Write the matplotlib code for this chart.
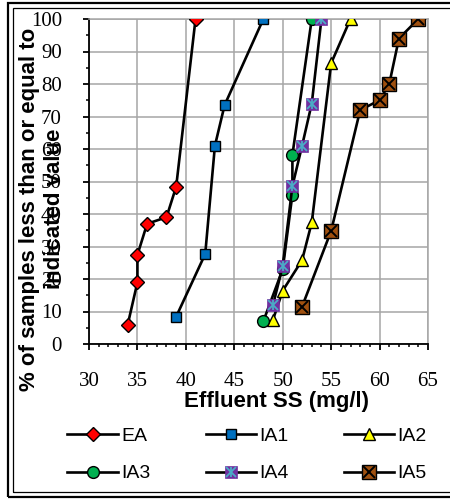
import matplotlib
matplotlib.use("Agg")
import matplotlib.pyplot as plt
from matplotlib.patches import Rectangle
from matplotlib.ticker import MultipleLocator

SERIF = "Liberation Serif"
SANS = "Liberation Sans"

# data (x = effluent SS mg/l, y = cumulative %)
ea_x = [34, 35, 35, 36, 38, 39, 41]
ea_y = [6, 19, 27.4, 37, 39, 48.4, 100]
ia1_x = [39, 42, 43, 44, 48]
ia1_y = [8.4, 27.7, 61, 73.5, 100]
ia2_x = [49, 50, 52, 53, 55, 57]
ia2_y = [7.5, 16.4, 25.8, 37.4, 86.4, 100]
ia3_x = [48, 50, 51, 51, 53]
ia3_y = [7, 23, 46, 58.2, 100]
ia4_x = [49, 50, 51, 52, 53, 54]
ia4_y = [12, 24, 48.6, 61, 74, 100]
ia5_x = [52, 55, 58, 60, 61, 62, 64]
ia5_y = [11.5, 34.8, 72, 75, 80, 94, 100]
labels = ["EA", "IA1", "IA2", "IA3", "IA4", "IA5"]

fig = plt.figure(figsize=(4.5, 4.99), dpi=100)
ax = fig.add_axes([89/450, 1-344/499, 339/450, 325/499])

LW = 1.9
h_ea, = ax.plot(ea_x, ea_y, color="black", lw=LW, marker="D", ms=7.5,
                mfc="#ff0000", mec="black", mew=1, zorder=3)
h_ia1, = ax.plot(ia1_x, ia1_y, color="black", lw=LW, marker="s", ms=7.5,
                 mfc="#0070c0", mec="black", mew=1, zorder=3)
h_ia2, = ax.plot(ia2_x, ia2_y, color="black", lw=LW, marker="^", ms=9,
                 mfc="#ffff00", mec="black", mew=1, zorder=3)
h_ia3, = ax.plot(ia3_x, ia3_y, color="black", lw=LW, marker="o", ms=8.5,
                 mfc="#00b050", mec="black", mew=1, zorder=3)
h_ia4, = ax.plot(ia4_x, ia4_y, color="black", lw=LW, marker="s", ms=8.5,
                 mfc="#7030a0", mec="#7030a0", mew=0.5, zorder=3)
h_ia4x, = ax.plot(ia4_x, ia4_y, ls="none", marker="x", ms=7.5,
                  mec="#4bacc6", mew=1.3, zorder=4)
h_ia4v, = ax.plot(ia4_x, ia4_y, ls="none", marker="|", ms=7.5,
                  mec="#4bacc6", mew=1.3, zorder=4)
h_ia5, = ax.plot(ia5_x, ia5_y, color="black", lw=LW, marker="s", ms=9.5,
                 mfc="#a0500f", mec="black", mew=1, zorder=3)
h_ia5x, = ax.plot(ia5_x, ia5_y, ls="none", marker="x", ms=9,
                  mec="black", mew=1.4, zorder=4)

ax.set_xlim(30, 65)
ax.set_ylim(0, 100)
ax.xaxis.set_major_locator(MultipleLocator(5))
ax.xaxis.set_minor_locator(MultipleLocator(1))
ax.yaxis.set_major_locator(MultipleLocator(10))
ax.yaxis.set_minor_locator(MultipleLocator(5))
ax.grid(True, which="major", color="#a6a6a6", lw=1.1, zorder=0)
ax.set_axisbelow(True)
for s in ["top", "right"]:
    ax.spines[s].set_color("#a6a6a6")
    ax.spines[s].set_linewidth(1.1)
for s in ["left", "bottom"]:
    ax.spines[s].set_color("black")
    ax.spines[s].set_linewidth(1.3)
ax.tick_params(axis="both", which="major", direction="out", length=4.5, width=1.3,
               colors="black", labelsize=15)
ax.tick_params(axis="both", which="minor", direction="out", length=2.5, width=1.1)
ax.tick_params(axis="x", which="major", pad=16)
ax.tick_params(axis="y", which="major", pad=15)
for t in ax.get_xticklabels() + ax.get_yticklabels():
    t.set_fontfamily(SERIF)

fig.text(277/450, 1-401/499, "Effluent SS (mg/l)", fontsize=16, fontweight="bold",
         family=SANS, ha="center", va="center")
fig.text(42/450, 1-209/499, "% of samples less than or equal to\nindicated value",
         fontsize=16, fontweight="bold", family=SANS, rotation=90,
         ha="center", va="center", multialignment="center", linespacing=1.2)

# legend fills column by column, so order entries to read row-wise
handles = [h_ea, h_ia1, h_ia2, h_ia3, (h_ia4, h_ia4x, h_ia4v), (h_ia5, h_ia5x)]
order = [0, 3, 1, 4, 2, 5]
fig.legend([handles[i] for i in order], [labels[i] for i in order], ncol=3,
           loc="center", bbox_to_anchor=(247/450, 1-455/499),
           frameon=False, prop={"family": SANS, "size": 14}, handlelength=2.6,
           handletextpad=0.15, columnspacing=2.85, labelspacing=1.0,
           borderpad=0, borderaxespad=0)

# double frame around the chart
fig.patches.append(Rectangle((8/450, 1-497/499), 460/450, 494/499, fill=False,
                             lw=1.6, ec="black", transform=fig.transFigure))
fig.patches.append(Rectangle((13/450, 1-492/499), 460/450, 484/499, fill=False,
                             lw=0.9, ec="black", transform=fig.transFigure))

fig.savefig("out.png", dpi=100, facecolor="white")
